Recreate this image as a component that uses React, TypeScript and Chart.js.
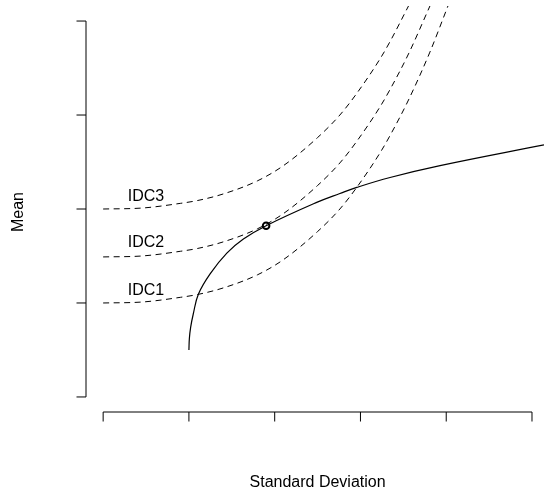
import React, { useEffect, useRef } from "react";
import { Chart, registerables } from "chart.js";

Chart.register(...registerables);

// Efficient frontier (solid)
const frontierSD = [1.0, 1.005, 1.02, 1.05, 1.111, 1.247, 1.442, 1.635, 1.9, 2.49, 2.76, 2.957, 3.345, 3.928, 5.14];
const frontierMean = [0.5, 0.62, 0.74, 0.88, 1.095, 1.31, 1.53, 1.68, 1.822, 2.07, 2.165, 2.23, 2.335, 2.461, 2.682];

// Indifference curves (dashed)
const idc1SD = [0, 0.45, 0.9, 1.1, 1.4, 1.8, 2.1, 2.5, 2.76, 2.96, 3.23, 3.35, 3.56, 3.81, 4.02];
const idc1Mean = [1.0, 1.01, 1.06, 1.09, 1.16, 1.3, 1.46, 1.76, 2.0, 2.234, 2.6, 2.79, 3.16, 3.67, 4.16];
const idc2SD = [0, 0.45, 0.9, 1.1, 1.4, 1.8, 2.1, 2.5, 2.76, 2.96, 3.23, 3.35, 3.56, 3.81];
const idc2Mean = [1.49, 1.5, 1.55, 1.58, 1.65, 1.79, 1.95, 2.25, 2.49, 2.724, 3.09, 3.28, 3.65, 4.16];
const idc3SD = [0, 0.45, 0.9, 1.1, 1.4, 1.8, 2.1, 2.5, 2.76, 2.96, 3.23, 3.35, 3.56];
const idc3Mean = [2.0, 2.01, 2.06, 2.09, 2.16, 2.3, 2.46, 2.76, 3.0, 3.234, 3.6, 3.79, 4.16];

// Tangency point
const tangentSD = [1.9];
const tangentMean = [1.822];

// Curve labels
const idcNames = ["IDC1", "IDC2", "IDC3"];
const idcLabelSD = [0.5, 0.5, 0.5];
const idcLabelMean = [1.13, 1.64, 2.13];

// Axis ticks (unlabelled)
const xTicks = [0, 1, 2, 3, 4, 5];
const yTicks = [0, 1, 2, 3, 4];

const xTitle = "Standard Deviation";
const yTitle = "Mean";

const FONT = "16px 'Liberation Sans', Arial, Helvetica, sans-serif";

const toPts = (xs: number[], ys: number[]) => xs.map((x, i) => ({ x, y: ys[i] }));

const rAxesPlugin = {
  id: "rAxes",
  afterDatasetsDraw(chart: any) {
    const ctx = chart.ctx as CanvasRenderingContext2D;
    const xs = chart.scales.x;
    const ys = chart.scales.y;
    const area = chart.chartArea;
    ctx.save();
    ctx.strokeStyle = "#000";
    ctx.lineWidth = 1;
    ctx.setLineDash([]);
    const tick = 9.5;

    // x axis at bottom of plot region
    const yb = area.bottom;
    ctx.beginPath();
    ctx.moveTo(xs.getPixelForValue(xTicks[0]), yb);
    ctx.lineTo(xs.getPixelForValue(xTicks[xTicks.length - 1]), yb);
    xTicks.forEach((t) => {
      const p = xs.getPixelForValue(t);
      ctx.moveTo(p, yb);
      ctx.lineTo(p, yb + tick);
    });
    ctx.stroke();

    // y axis at left of plot region
    const xl = area.left;
    ctx.beginPath();
    ctx.moveTo(xl, ys.getPixelForValue(yTicks[0]));
    ctx.lineTo(xl, ys.getPixelForValue(yTicks[yTicks.length - 1]));
    yTicks.forEach((t) => {
      const p = ys.getPixelForValue(t);
      ctx.moveTo(xl, p);
      ctx.lineTo(xl - tick, p);
    });
    ctx.stroke();

    // curve labels
    ctx.fillStyle = "#000";
    ctx.font = FONT;
    ctx.textAlign = "center";
    ctx.textBaseline = "middle";
    idcNames.forEach((n, i) => {
      ctx.fillText(n, xs.getPixelForValue(idcLabelSD[i]), ys.getPixelForValue(idcLabelMean[i]));
    });

    // axis titles
    const cx = (xs.getPixelForValue(-0.2) + xs.getPixelForValue(5.2)) / 2;
    ctx.textBaseline = "alphabetic";
    ctx.fillText(xTitle, cx, 486.5);
    ctx.save();
    ctx.translate(23, (area.top + area.bottom) / 2 + 3);
    ctx.rotate(-Math.PI / 2);
    ctx.fillText(yTitle, 0, 0);
    ctx.restore();
    ctx.restore();
  },
};

export default function App() {
  const ref = useRef<HTMLCanvasElement | null>(null);
  useEffect(() => {
    if (!ref.current) return;
    const dashed = {
      showLine: true,
      borderColor: "#000",
      borderWidth: 1,
      borderDash: [6, 4.5],
      pointRadius: 0,
      pointHoverRadius: 0,
      cubicInterpolationMode: "monotone" as const,
      fill: false,
    };
    const chart = new Chart(ref.current, {
      type: "scatter",
      data: {
        datasets: [
          { ...dashed, label: "IDC1", data: toPts(idc1SD, idc1Mean) },
          { ...dashed, label: "IDC2", data: toPts(idc2SD, idc2Mean) },
          { ...dashed, label: "IDC3", data: toPts(idc3SD, idc3Mean) },
          {
            label: "Frontier",
            data: toPts(frontierSD, frontierMean),
            showLine: true,
            borderColor: "#000",
            borderWidth: 1.2,
            pointRadius: 0,
            pointHoverRadius: 0,
            tension: 0.4,
            fill: false,
          },
          {
            label: "Tangency",
            data: toPts(tangentSD, tangentMean),
            showLine: false,
            pointRadius: 3.3,
            pointBorderWidth: 2,
            pointBorderColor: "#000",
            pointBackgroundColor: "#fff",
          },
        ],
      },
      options: {
        animation: false,
        responsive: false,
        devicePixelRatio: 1,
        layout: { autoPadding: false, padding: { left: 86, top: 6, right: 0, bottom: 81 } },
        plugins: { legend: { display: false }, tooltip: { enabled: false } },
        events: [],
        scales: {
          x: { type: "linear", min: -0.2, max: 5.14, display: false },
          y: { type: "linear", min: -0.16, max: 4.16, display: false },
        },
      },
      plugins: [rAxesPlugin],
    });
    return () => chart.destroy();
  }, []);
  return (
    <canvas
      ref={ref}
      width={544}
      height={493}
      style={{ position: "absolute", left: 0, top: 0, display: "block", background: "#fff" }}
    />
  );
}
